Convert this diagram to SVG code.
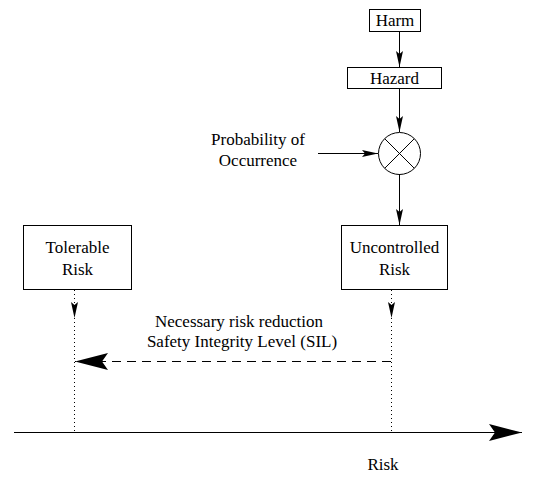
<svg xmlns="http://www.w3.org/2000/svg" width="537" height="477" viewBox="0 0 537 477">
<style>
text{font-family:"Liberation Serif","Times New Roman",serif;font-size:17px;fill:#000;text-anchor:middle}
.box{fill:#fff;stroke:#000;stroke-width:1}
.ln{fill:none;stroke:#000;stroke-width:1}
.dot{fill:none;stroke:#000;stroke-width:1;stroke-dasharray:1 3}
.dash{fill:none;stroke:#000;stroke-width:1;stroke-dasharray:9 6}
</style>
<defs>
<marker id="a" viewBox="-16 -4 17 8" refX="0" refY="0" markerWidth="17" markerHeight="8" markerUnits="userSpaceOnUse" orient="auto">
<path d="M0,0 L-16,-3.5 L-13,0 L-16,3.5 Z" fill="#000"/>
</marker>
<marker id="big" viewBox="-33 -9 34 18" refX="0" refY="0" markerWidth="34" markerHeight="18" markerUnits="userSpaceOnUse" orient="auto">
<path d="M0,0 L-33,-8.5 L-27,0 L-33,8.5 Z" fill="#000"/>
</marker>
</defs>
<g id="connectors">
<line class="ln" x1="399.5" y1="32" x2="399.5" y2="67" marker-end="url(#a)"/>
<line class="ln" x1="399.5" y1="88" x2="399.5" y2="132" marker-end="url(#a)"/>
<line class="ln" x1="318" y1="153.5" x2="378" y2="153.5" marker-end="url(#a)"/>
<line class="ln" x1="399.5" y1="174" x2="399.5" y2="225" marker-end="url(#a)"/>
<line class="dot" x1="74.5" y1="290" x2="74.5" y2="318" marker-end="url(#a)"/>
<line class="dot" x1="74.5" y1="318" x2="74.5" y2="432"/>
<line class="dot" x1="391.5" y1="290" x2="391.5" y2="318" marker-end="url(#a)"/>
<line class="dot" x1="391.5" y1="318" x2="391.5" y2="432"/>
<line class="dash" x1="391" y1="361.5" x2="75" y2="361.5" marker-end="url(#big)"/>
<line class="ln" x1="14" y1="432.5" x2="522" y2="432.5" marker-end="url(#big)"/>
</g>
<g id="harm">
<rect class="box" x="369.5" y="9.5" width="51" height="22"/>
<text x="395" y="26">Harm</text>
</g>
<g id="hazard">
<rect class="box" x="347.5" y="67.5" width="94" height="21"/>
<text x="394.5" y="84">Hazard</text>
</g>
<g id="multiplier">
<circle class="ln" cx="399.5" cy="153.5" r="21"/>
<path class="ln" d="M384.7,138.7 L414.3,168.3 M414.3,138.7 L384.7,168.3"/>
</g>
<g id="probability">
<text x="258" y="145">Probability of</text>
<text x="258" y="166">Occurrence</text>
</g>
<g id="tolerable">
<rect class="box" x="23.5" y="225.5" width="108" height="64"/>
<text x="77.5" y="253">Tolerable</text>
<text x="77.5" y="275">Risk</text>
</g>
<g id="uncontrolled">
<rect class="box" x="341.5" y="225.5" width="106" height="64"/>
<text x="394.5" y="253">Uncontrolled</text>
<text x="394.5" y="275">Risk</text>
</g>
<g id="reduction">
<text x="239" y="327">Necessary risk reduction</text>
<text x="242" y="347">Safety Integrity Level (SIL)</text>
</g>
<g id="axis-label">
<text x="383" y="470">Risk</text>
</g>
</svg>
